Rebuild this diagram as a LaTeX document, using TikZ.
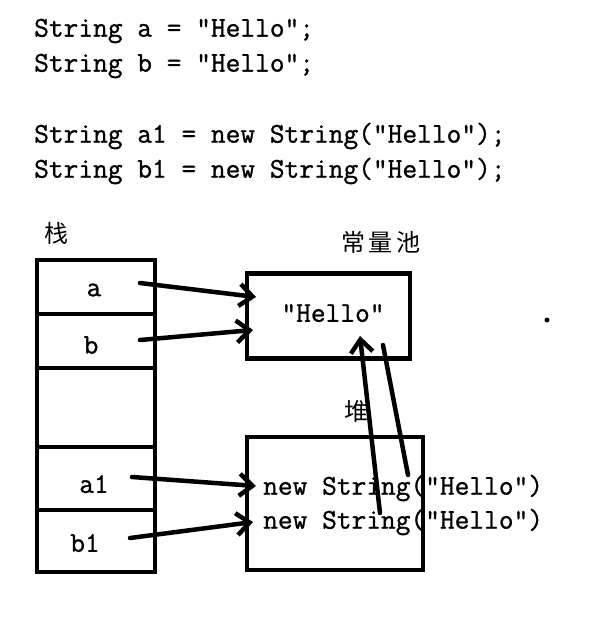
\documentclass[tikz,border=0pt]{standalone}
\usepackage{fontspec}
\setmonofont[FakeBold=1.0]{Latin Modern Mono}
\newfontfamily\cjk{Noto Sans CJK SC}
\usetikzlibrary{arrows.meta}
\tikzset{
  code/.style={font=\ttfamily\fontsize{28.6}{30}\selectfont, anchor=west, inner sep=0pt},
  cjklabel/.style={font=\cjk\fontsize{24}{26}\selectfont, inner sep=0pt},
  bx/.style={draw, line width=4.5pt, inner sep=0pt},
  ptr/.style={line width=4.5pt, line cap=round, -{Straight Barb[length=13pt,width=22pt,line width=4.5pt]}},
  ptrline/.style={line width=4.5pt, line cap=round},
}
\begin{document}
\begin{tikzpicture}[x=1pt,y=-1pt]
\useasboundingbox (0,0) rectangle (604,622);
% code
\node[code] (l1) at (34,31) {String a = "Hello";};
\node[code] (l2) at (34,66) {String b = "Hello";};
\node[code] (l3) at (34,136) {String a1 = new String("Hello");};
\node[code] (l4) at (34,171) {String b1 = new String("Hello");};
% labels
\node[cjklabel] (zhan) at (56,233) {栈};
\node[cjklabel] (pool) at (381,242) {常\,量\,池};
\node[cjklabel] (dui) at (356,411) {堆};
% stack
\draw[line width=4.5pt] (37,260) rectangle (155,572);
\draw[line width=4.5pt] (35,314) -- (155,314);
\draw[line width=4.5pt] (37,368) -- (155,368);
\draw[line width=4.5pt] (37,447) -- (155,447);
\draw[line width=4.5pt] (37,510) -- (155,510);
\node[code, anchor=center] (sa) at (94,290) {a};
\node[code, anchor=center] (sb) at (91,345) {b};
\node[code, anchor=center] (sa1) at (94,484) {a1};
\node[code, anchor=center] (sb1) at (85,543) {b1};
% pool
\node[bx, minimum width=163pt, minimum height=85pt] (poolbox) at (328.5,316) {};
\node[code, anchor=center] (hello) at (333,313) {"Hello"};
% heap
\node[bx, minimum width=176pt, minimum height=133pt] (heapbox) at (335,503.5) {};
\node[code] (n1) at (263,488) {new String("Hello")};
\node[code] (n2) at (263,522) {new String("Hello")};
% pointers
\coordinate (pa0) at (140,283); \coordinate (pa1) at (256,297);
\coordinate (pb0) at (140,340); \coordinate (pb1) at (253,330);
\coordinate (pc0) at (132,477); \coordinate (pc1) at (256,486);
\coordinate (pd0) at (130,538); \coordinate (pd1) at (253,522);
\draw[ptr] (pa0) -- (pa1);
\draw[ptr] (pb0) -- (pb1);
\draw[ptr] (pc0) -- (pc1);
\draw[ptr] (pd0) -- (pd1);
\coordinate (u0) at (380,513); \coordinate (u1) at (360,336);
\draw[ptr] (u0) -- (u1);
\coordinate (v0) at (408,475); \coordinate (v1) at (383,345);
\draw[ptrline] (v0) -- (v1);
% stray dot
\fill (547,320) circle (2.5pt);
\end{tikzpicture}
\end{document}
